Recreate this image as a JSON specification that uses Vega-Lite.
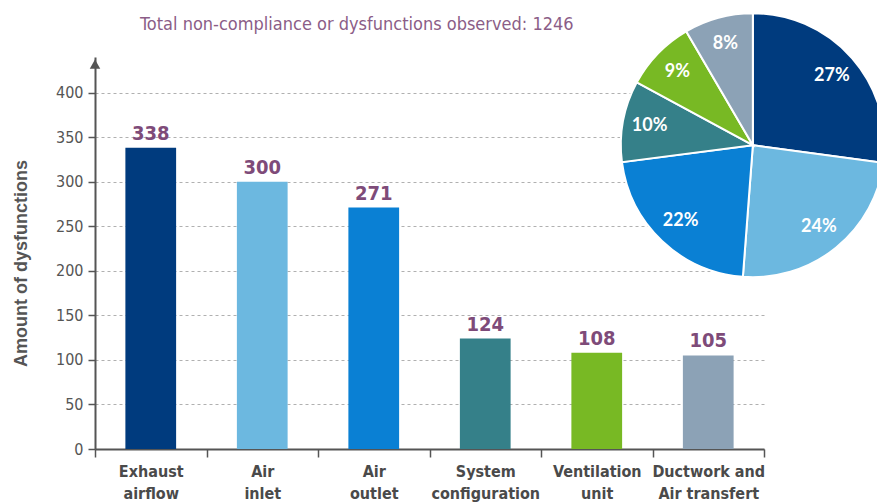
{
  "$schema": "https://vega.github.io/schema/vega-lite/v6.json",
  "width": 669,
  "height": 392,
  "autosize": {"type": "none"},
  "padding": {"left": 95, "top": 57, "right": 113, "bottom": 54},
  "background": "white",
  "config": {"view": {"stroke": null}},
  "title": {
    "text": "Total non-compliance or dysfunctions observed: 1246",
    "anchor": "start",
    "frame": "group",
    "dx": 45,
    "offset": -25,
    "font": "DejaVu Sans Condensed",
    "fontSize": 18,
    "fontWeight": "normal",
    "color": "#8b5d87"
  },
  "data": {
    "values": [
      {"category": "Exhaust airflow", "count": 338, "pct": "27%"},
      {"category": "Air inlet", "count": 300, "pct": "24%"},
      {"category": "Air outlet", "count": 271, "pct": "22%"},
      {"category": "System configuration", "count": 124, "pct": "10%"},
      {"category": "Ventilation unit", "count": 108, "pct": "9%"},
      {"category": "Ductwork and Air transfert", "count": 105, "pct": "8%"}
    ]
  },
  "layer": [
    {
      "mark": {"type": "bar", "width": {"band": 0.455}},
      "encoding": {
        "x": {
          "field": "category",
          "type": "nominal",
          "sort": null,
          "scale": {"paddingInner": 0, "paddingOuter": 0},
          "axis": {
            "title": null,
            "labelAngle": 0,
            "labelExpr": "indexof(datum.label, ' and ') > 0 ? ['Ductwork and', 'Air transfert'] : split(datum.label, ' ')",
            "labelFont": "DejaVu Sans Condensed",
            "labelFontSize": 16,
            "labelFontWeight": "bold",
            "labelColor": "#4a4a4a",
            "labelLineHeight": 22,
            "labelPadding": 6,
            "labelBaseline": "top",
            "tickBand": "extent",
            "tickColor": "#555555",
            "tickWidth": 1.5,
            "tickSize": 8,
            "domainColor": "#555555",
            "domainWidth": 2,
            "grid": false
          }
        },
        "y": {
          "field": "count",
          "type": "quantitative",
          "scale": {"domain": [0, 440], "nice": false},
          "axis": {
            "title": "Amount of dysfunctions",
            "titleFont": "Liberation Sans",
            "titleFontSize": 18,
            "titleFontWeight": "bold",
            "titleColor": "#555555",
            "titleX": -65,
            "titleY": 206,
            "values": [0, 50, 100, 150, 200, 250, 300, 350, 400],
            "labelFont": "DejaVu Sans Condensed",
            "labelFontSize": 16,
            "labelColor": "#555555",
            "labelPadding": 5,
            "tickColor": "#555555",
            "tickWidth": 1.5,
            "tickSize": 7,
            "domainColor": "#555555",
            "domainWidth": 2,
            "grid": true,
            "gridColor": "#b0b0b0",
            "gridDash": [3, 3],
            "gridWidth": 1
          }
        },
        "color": {
          "field": "category",
          "type": "nominal",
          "sort": null,
          "scale": {
            "domain": ["Exhaust airflow", "Air inlet", "Air outlet", "System configuration", "Ventilation unit", "Ductwork and Air transfert"],
            "range": ["#003b7e", "#6cb8e0", "#0a80d4", "#358089", "#78b924", "#8ca2b6"]
          },
          "legend": null
        }
      }
    },
    {
      "mark": {
        "type": "text",
        "baseline": "bottom",
        "dy": -4,
        "font": "DejaVu Sans Condensed",
        "fontSize": 20,
        "fontWeight": "bold",
        "color": "#7e4b79"
      },
      "encoding": {
        "x": {"field": "category", "type": "nominal", "sort": null},
        "y": {"field": "count", "type": "quantitative"},
        "text": {"field": "count", "type": "quantitative"}
      }
    },
    {
      "data": {"values": [{}]},
      "mark": {"type": "point", "shape": "triangle-up", "filled": true, "size": 110, "color": "#555555", "opacity": 1},
      "encoding": {
        "x": {"datum": "Exhaust airflow", "bandPosition": 0},
        "y": {"datum": 432}
      }
    },
    {
      "encoding": {
        "x": {"datum": "Ductwork and Air transfert", "bandPosition": 0.9},
        "y": {"datum": 341},
        "theta": {"field": "count", "type": "quantitative", "stack": true},
        "order": {"field": "count", "type": "quantitative", "sort": "descending"}
      },
      "layer": [
        {
          "mark": {"type": "arc", "radius": 132, "stroke": "white", "strokeWidth": 2},
          "encoding": {
            "color": {"field": "category", "type": "nominal", "sort": null}
          }
        },
        {
          "mark": {"type": "text", "radius": 105, "font": "Lato", "fontSize": 18, "fontWeight": "bold", "color": "white"},
          "encoding": {
            "text": {"field": "pct", "type": "nominal"}
          }
        }
      ]
    }
  ]
}
